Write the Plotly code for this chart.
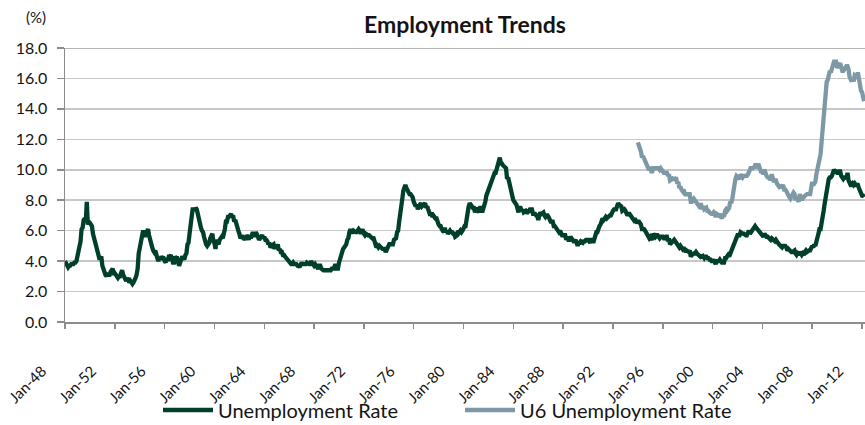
import plotly.graph_objects as go
import pandas as pd

# Monthly unemployment rate (%), Jan 1948 onward
unemployment_rate = [
    4.0, 3.8, 3.6, 3.6, 3.7, 3.7, 3.8, 3.8, 3.8, 3.9, 3.9, 4.0,  # 1948
    4.3, 4.7, 5.0, 5.3, 6.1, 6.2, 6.7, 6.8, 6.6, 7.9, 6.4, 6.6,  # 1949
    6.5, 6.4, 6.3, 5.8, 5.5, 5.4, 5.0, 4.5, 4.4, 4.2, 4.2, 4.3,  # 1950
    3.7, 3.4, 3.4, 3.1, 3.0, 3.2, 3.1, 3.1, 3.3, 3.5, 3.5, 3.1,  # 1951
    3.2, 3.1, 2.9, 2.9, 3.0, 3.0, 3.2, 3.4, 3.1, 3.0, 2.8, 2.7,  # 1952
    2.9, 2.6, 2.6, 2.7, 2.5, 2.5, 2.6, 2.7, 2.9, 3.1, 3.5, 4.5,  # 1953
    4.9, 5.2, 5.7, 5.9, 5.9, 5.6, 5.8, 6.0, 6.1, 5.7, 5.3, 5.0,  # 1954
    4.9, 4.7, 4.6, 4.7, 4.3, 4.2, 4.0, 4.2, 4.1, 4.3, 4.2, 4.2,  # 1955
    4.0, 3.9, 4.2, 4.0, 4.3, 4.3, 4.4, 4.1, 3.9, 3.9, 4.3, 4.2,  # 1956
    4.2, 3.9, 3.7, 3.9, 4.1, 4.3, 4.2, 4.1, 4.4, 4.5, 5.1, 5.2,  # 1957
    5.8, 6.4, 6.7, 7.4, 7.4, 7.3, 7.5, 7.4, 7.1, 6.7, 6.2, 6.2,  # 1958
    6.0, 5.9, 5.6, 5.2, 5.1, 5.0, 5.1, 5.2, 5.5, 5.7, 5.8, 5.3,  # 1959
    5.2, 4.8, 5.4, 5.2, 5.1, 5.4, 5.5, 5.6, 5.5, 6.1, 6.1, 6.6,  # 1960
    6.6, 6.9, 6.9, 7.0, 7.1, 6.9, 7.0, 6.6, 6.7, 6.5, 6.1, 6.0,  # 1961
    5.8, 5.5, 5.6, 5.6, 5.5, 5.5, 5.4, 5.7, 5.6, 5.4, 5.7, 5.5,  # 1962
    5.7, 5.9, 5.7, 5.7, 5.9, 5.6, 5.6, 5.4, 5.5, 5.5, 5.7, 5.5,  # 1963
    5.6, 5.4, 5.4, 5.3, 5.1, 5.2, 4.9, 5.0, 5.1, 5.1, 4.8, 5.0,  # 1964
    4.9, 5.1, 4.7, 4.8, 4.6, 4.6, 4.4, 4.4, 4.3, 4.2, 4.1, 4.0,  # 1965
    4.0, 3.8, 3.8, 3.8, 3.9, 3.8, 3.8, 3.8, 3.7, 3.7, 3.6, 3.8,  # 1966
    3.9, 3.8, 3.8, 3.8, 3.8, 3.9, 3.8, 3.8, 3.8, 4.0, 3.9, 3.8,  # 1967
    3.7, 3.8, 3.7, 3.5, 3.5, 3.7, 3.7, 3.5, 3.4, 3.4, 3.4, 3.4,  # 1968
    3.4, 3.4, 3.4, 3.4, 3.4, 3.5, 3.5, 3.5, 3.7, 3.7, 3.5, 3.5,  # 1969
    3.9, 4.2, 4.4, 4.6, 4.8, 4.9, 5.0, 5.1, 5.4, 5.5, 5.9, 6.1,  # 1970
    5.9, 5.9, 6.0, 5.9, 5.9, 5.9, 6.0, 6.1, 6.0, 5.8, 6.0, 6.0,  # 1971
    5.8, 5.7, 5.8, 5.7, 5.7, 5.7, 5.6, 5.6, 5.5, 5.6, 5.3, 5.2,  # 1972
    4.9, 5.0, 4.9, 5.0, 4.9, 4.9, 4.8, 4.8, 4.8, 4.6, 4.8, 4.9,  # 1973
    5.1, 5.2, 5.1, 5.1, 5.1, 5.4, 5.5, 5.5, 5.9, 6.0, 6.6, 7.2,  # 1974
    8.1, 8.1, 8.6, 8.8, 9.0, 8.8, 8.6, 8.4, 8.4, 8.4, 8.3, 8.2,  # 1975
    7.9, 7.7, 7.6, 7.7, 7.4, 7.6, 7.8, 7.8, 7.6, 7.7, 7.8, 7.8,  # 1976
    7.5, 7.6, 7.4, 7.2, 7.0, 7.2, 6.9, 7.0, 6.8, 6.8, 6.8, 6.4,  # 1977
    6.4, 6.3, 6.3, 6.1, 6.0, 5.9, 6.2, 5.9, 6.0, 5.8, 5.9, 6.0,  # 1978
    5.9, 5.9, 5.8, 5.8, 5.6, 5.7, 5.7, 6.0, 5.9, 6.0, 5.9, 6.0,  # 1979
    6.3, 6.3, 6.3, 6.9, 7.5, 7.6, 7.8, 7.7, 7.5, 7.5, 7.5, 7.2,  # 1980
    7.5, 7.4, 7.4, 7.2, 7.5, 7.5, 7.2, 7.4, 7.6, 7.9, 8.3, 8.5,  # 1981
    8.6, 8.9, 9.0, 9.3, 9.4, 9.6, 9.8, 9.8, 10.1, 10.4, 10.8, 10.8,  # 1982
    10.4, 10.4, 10.3, 10.2, 10.1, 10.1, 9.4, 9.5, 9.2, 8.8, 8.5, 8.3,  # 1983
    8.0, 7.8, 7.8, 7.7, 7.4, 7.2, 7.5, 7.5, 7.3, 7.4, 7.2, 7.3,  # 1984
    7.3, 7.2, 7.2, 7.3, 7.2, 7.4, 7.4, 7.1, 7.1, 7.1, 7.0, 7.0,  # 1985
    6.7, 7.2, 7.2, 7.1, 7.2, 7.2, 7.0, 6.9, 7.0, 7.0, 6.9, 6.6,  # 1986
    6.6, 6.6, 6.6, 6.3, 6.3, 6.2, 6.1, 6.0, 5.9, 6.0, 5.8, 5.7,  # 1987
    5.7, 5.7, 5.7, 5.4, 5.6, 5.4, 5.4, 5.6, 5.4, 5.4, 5.3, 5.3,  # 1988
    5.4, 5.2, 5.0, 5.2, 5.2, 5.3, 5.2, 5.2, 5.3, 5.3, 5.4, 5.4,  # 1989
    5.4, 5.3, 5.2, 5.4, 5.4, 5.2, 5.5, 5.7, 5.9, 5.9, 6.2, 6.3,  # 1990
    6.4, 6.6, 6.8, 6.7, 6.9, 6.9, 6.8, 6.9, 6.9, 7.0, 7.0, 7.3,  # 1991
    7.3, 7.4, 7.4, 7.4, 7.6, 7.8, 7.7, 7.6, 7.6, 7.3, 7.4, 7.4,  # 1992
    7.3, 7.1, 7.0, 7.1, 7.1, 7.0, 6.9, 6.8, 6.7, 6.8, 6.6, 6.5,  # 1993
    6.6, 6.6, 6.5, 6.4, 6.1, 6.1, 6.1, 6.0, 5.9, 5.8, 5.6, 5.5,  # 1994
    5.6, 5.4, 5.4, 5.8, 5.6, 5.6, 5.7, 5.7, 5.6, 5.5, 5.6, 5.6,  # 1995
    5.6, 5.5, 5.5, 5.6, 5.6, 5.3, 5.5, 5.1, 5.2, 5.2, 5.4, 5.4,  # 1996
    5.3, 5.2, 5.2, 5.1, 4.9, 5.0, 4.9, 4.8, 4.9, 4.7, 4.6, 4.7,  # 1997
    4.6, 4.6, 4.7, 4.3, 4.4, 4.5, 4.5, 4.5, 4.6, 4.5, 4.4, 4.4,  # 1998
    4.3, 4.4, 4.2, 4.3, 4.2, 4.3, 4.3, 4.2, 4.2, 4.1, 4.1, 4.0,  # 1999
    4.0, 4.1, 4.0, 3.8, 4.0, 4.0, 4.0, 4.1, 3.9, 3.9, 3.9, 3.9,  # 2000
    4.2, 4.2, 4.3, 4.4, 4.3, 4.5, 4.6, 4.9, 5.0, 5.3, 5.5, 5.7,  # 2001
    5.7, 5.7, 5.7, 5.9, 5.8, 5.8, 5.8, 5.7, 5.7, 5.7, 5.9, 6.0,  # 2002
    5.8, 5.9, 5.9, 6.0, 6.1, 6.3, 6.2, 6.1, 6.1, 6.0, 5.8, 5.7,  # 2003
    5.7, 5.6, 5.8, 5.6, 5.6, 5.6, 5.5, 5.4, 5.4, 5.5, 5.4, 5.4,  # 2004
    5.3, 5.4, 5.2, 5.2, 5.1, 5.0, 5.0, 4.9, 5.0, 5.0, 5.0, 4.9,  # 2005
    4.7, 4.8, 4.7, 4.7, 4.6, 4.6, 4.7, 4.7, 4.5, 4.4, 4.5, 4.4,  # 2006
    4.6, 4.5, 4.4, 4.5, 4.4, 4.6, 4.7, 4.6, 4.7, 4.7, 4.7, 5.0,  # 2007
    5.0, 4.9, 5.1, 5.0, 5.4, 5.6, 5.8, 6.1, 6.1, 6.5, 6.8, 7.3,  # 2008
    7.8, 8.3, 8.7, 9.0, 9.4, 9.5, 9.5, 9.6, 9.8, 10.0, 9.9, 9.9,  # 2009
    9.8, 9.8, 9.9, 9.9, 9.6, 9.4, 9.4, 9.5, 9.5, 9.4, 9.8, 9.3,  # 2010
    9.1, 9.0, 9.0, 9.1, 9.0, 9.1, 9.0, 9.0, 9.0, 8.8, 8.6, 8.5,  # 2011
    8.3, 8.3, 8.2,                                               # 2012
]
unemployment_start = "1948-01-01"

# Monthly U6 unemployment rate (%), Jan 1994 onward
u6_rate = [
    11.8, 11.4, 11.4, 11.2, 10.8, 10.9, 10.7, 10.5, 10.4, 10.3, 10.1, 10.0,  # 1994
    10.2, 9.9, 9.9, 10.1, 10.1, 10.1, 10.1, 10.1, 10.1, 10.0, 10.1, 10.0,  # 1995
    9.8, 9.8, 9.8, 9.8, 9.8, 9.6, 9.7, 9.3, 9.4, 9.4, 9.3, 9.5,  # 1996
    9.4, 9.4, 9.1, 9.2, 8.8, 8.9, 8.7, 8.6, 8.7, 8.4, 8.3, 8.4,  # 1997
    8.4, 8.4, 8.4, 7.9, 7.9, 8.0, 8.1, 8.0, 7.9, 7.8, 7.6, 7.6,  # 1998
    7.7, 7.7, 7.4, 7.6, 7.4, 7.5, 7.5, 7.3, 7.3, 7.2, 7.1, 7.1,  # 1999
    7.1, 7.2, 7.1, 6.9, 7.1, 7.0, 7.0, 7.1, 7.0, 6.8, 7.1, 6.9,  # 2000
    7.3, 7.4, 7.3, 7.4, 7.5, 7.9, 7.8, 8.1, 8.7, 9.3, 9.4, 9.6,  # 2001
    9.5, 9.5, 9.4, 9.7, 9.5, 9.5, 9.6, 9.6, 9.6, 9.6, 9.7, 9.8,  # 2002
    10.0, 10.2, 10.0, 10.2, 10.1, 10.3, 10.3, 10.1, 10.4, 10.2, 10.0, 9.8,  # 2003
    9.9, 9.7, 10.0, 9.6, 9.6, 9.5, 9.5, 9.4, 9.4, 9.7, 9.4, 9.2,  # 2004
    9.3, 9.3, 9.1, 8.9, 8.9, 9.0, 8.8, 8.9, 9.0, 8.7, 8.7, 8.6,  # 2005
    8.4, 8.4, 8.2, 8.1, 8.2, 8.4, 8.5, 8.4, 8.0, 8.2, 8.1, 7.9,  # 2006
    8.4, 8.2, 8.0, 8.2, 8.2, 8.3, 8.4, 8.4, 8.4, 8.4, 8.4, 8.8,  # 2007
    9.2, 9.0, 9.1, 9.2, 9.7, 10.1, 10.5, 10.8, 11.0, 11.8, 12.6, 13.6,  # 2008
    14.2, 15.2, 15.8, 15.9, 16.4, 16.5, 16.4, 16.7, 16.7, 17.1, 17.1, 17.1,  # 2009
    16.7, 16.9, 16.9, 17.0, 16.6, 16.5, 16.5, 16.6, 16.8, 16.8, 16.8, 16.6,  # 2010
    16.1, 16.0, 15.8, 16.0, 15.8, 16.2, 16.1, 16.1, 16.4, 15.8, 15.6, 15.2,  # 2011
    15.1, 14.9, 14.5,                                                       # 2012
]
u6_start = "1994-01-01"

series_names = ["Unemployment Rate", "U6 Unemployment Rate"]
y_tick_values = [0, 2, 4, 6, 8, 10, 12, 14, 16, 18]

FONT = "Lato, 'Open Sans', sans-serif"
GREEN = "#003F2C"
BLUEGRAY = "#7E99A6"
TEXT = "#141414"

W, H = 865, 425
PLOT_L, PLOT_T, PLOT_W, PLOT_H = 65, 48, 800, 274

ur_dates = pd.date_range(unemployment_start, periods=len(unemployment_rate), freq="MS")
u6_dates = pd.date_range(u6_start, periods=len(u6_rate), freq="MS")

fig = go.Figure()
fig.add_trace(go.Scatter(
    x=ur_dates, y=unemployment_rate, mode="lines", name=series_names[0],
    line=dict(color=GREEN, width=4.3), legend="legend",
))
fig.add_trace(go.Scatter(
    x=u6_dates, y=u6_rate, mode="lines", name=series_names[1],
    line=dict(color=BLUEGRAY, width=4.3), legend="legend2",
))


def px_x(x):  # page x pixel -> paper coordinate
    return (x - PLOT_L) / PLOT_W


def px_y(y):  # page y pixel -> paper coordinate
    return (PLOT_T + PLOT_H - y) / PLOT_H


fig.update_layout(
    width=W, height=H,
    margin=dict(l=PLOT_L, r=W - PLOT_L - PLOT_W, t=PLOT_T, b=H - PLOT_T - PLOT_H, pad=0,
                autoexpand=False),
    paper_bgcolor="white", plot_bgcolor="white",
    font=dict(family=FONT, size=14, color=TEXT),
    title=dict(text="<b>Employment Trends</b>", x=0.5, xref="paper", xanchor="center",
               y=1 - 25 / H, yref="container", yanchor="middle",
               font=dict(size=23, color=TEXT, family=FONT)),
    showlegend=True,
    legend=dict(orientation="h", x=px_x(158), xanchor="left",
                y=px_y(410), yanchor="middle",
                font=dict(size=20, family=FONT, color=TEXT), itemwidth=50,
                bgcolor="rgba(0,0,0,0)"),
    legend2=dict(orientation="h", x=px_x(460), xanchor="left",
                 y=px_y(410), yanchor="middle",
                 font=dict(size=20, family=FONT, color=TEXT), itemwidth=50,
                 bgcolor="rgba(0,0,0,0)"),
    xaxis=dict(
        type="date", range=["1948-01-01", "2012-03-28"], automargin=False,
        tick0="1948-01-01", dtick="M48", tickformat="%b-%y",
        tickangle=-45, ticks="outside", ticklen=5, tickcolor="#8c8c8c", tickwidth=1.5,
        showline=True, linecolor="#8c8c8c", linewidth=1.5,
        showgrid=False, zeroline=False,
        tickfont=dict(size=15, family=FONT, color=TEXT),
        ticklabelstandoff=28, ticklabelshift=-23, ticklabeloverflow="allow",
    ),
    yaxis=dict(
        range=[0, 18], tickvals=y_tick_values, tickformat=".1f", automargin=False,
        ticks="outside", ticklen=7, tickcolor="#8c8c8c", tickwidth=1.5,
        showline=True, linecolor="#8c8c8c", linewidth=1.5,
        showgrid=True, gridcolor="#c8c8c8", gridwidth=1.5,
        zeroline=False,
        tickfont=dict(size=16, family=FONT, color=TEXT),
        ticklabelstandoff=6,
    ),
)

# darker top border line at the axis maximum
fig.add_shape(type="line", xref="paper", yref="y", x0=0, x1=1, y0=18, y1=18,
              line=dict(color="#9a9a9a", width=1.5), layer="above")

fig.add_annotation(text="(%)", xref="paper", yref="paper", x=px_x(36), y=px_y(17),
                   xanchor="center", yanchor="middle", showarrow=False,
                   font=dict(size=15, family=FONT, color=TEXT))

# remove the default page margin so the figure fills the 865x425 window exactly
fig.write_html("out.html",
               config={"displayModeBar": False, "staticPlot": True},
               post_script="document.body.style.margin='0';document.body.style.overflow='hidden';")
